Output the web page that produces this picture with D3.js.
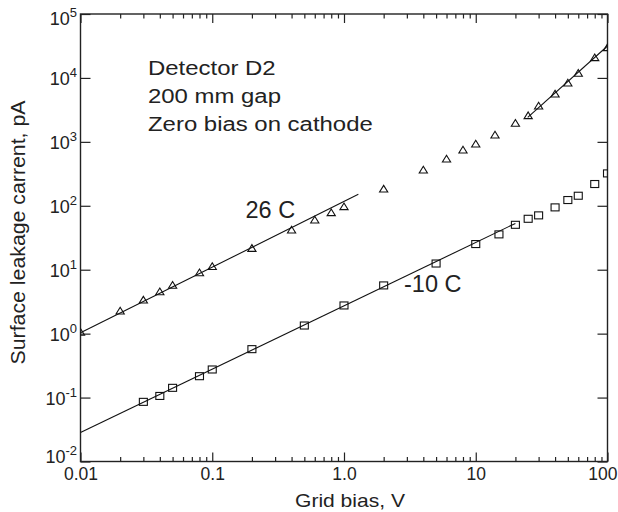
<!DOCTYPE html>
<html>
<head>
<meta charset="utf-8">
<script src="https://cdn.jsdelivr.net/npm/d3@7"></script>
<style>
  html, body { margin: 0; padding: 0; background: #fff; }
  text { font-family: "Liberation Sans", Arial, sans-serif; fill: #222; }
</style>
</head>
<body>
<svg id="chart" width="618" height="512"></svg>
<script>
// ---- data ----
const xTicks = [0.01, 0.1, 1, 10, 100];
const xTickLabels = ["0.01", "0.1", "1.0", "10", "100"];
const yTicks = [1e-2, 1e-1, 1e0, 1e1, 1e2, 1e3, 1e4, 1e5];
const yTickExponents = ["-2", "-1", "0", "1", "2", "3", "4", "5"];

// 26 C (triangles)
const v26 = [0.01, 0.02, 0.03, 0.04, 0.05, 0.08, 0.1, 0.2, 0.4, 0.6, 0.8, 1.0, 2, 4, 6, 8, 10, 14, 20, 25, 30, 40, 50, 60, 80, 100];
const i26 = [1.05, 2.25, 3.34, 4.5, 5.7, 8.95, 11.2, 21.5, 41.7, 59.7, 77.8, 96.5, 182, 362, 538, 744, 924, 1277, 1946, 2563, 3633, 5600, 8320, 11800, 20700, 29700];

// -10 C (squares)
const vM10 = [0.03, 0.04, 0.05, 0.08, 0.1, 0.2, 0.5, 1, 2, 5, 10, 15, 20, 25, 30, 40, 50, 60, 80, 100];
const iM10 = [0.0857, 0.106, 0.142, 0.216, 0.275, 0.572, 1.34, 2.76, 5.68, 12.5, 25.2, 35.7, 50.4, 62.6, 70.8, 94.4, 123, 143.6, 219, 321];

// fitted straight lines (endpoints)
const fit26LowV = [0.01, 1.285];
const fit26LowI = [1.03, 151];
const fit26HighV = [24.8, 100];
const fit26HighI = [2415, 31600];
const fitM10V = [0.01, 20];
const fitM10I = [0.0284, 53];

const annotationLines = ["Detector D2", "200 mm gap", "Zero bias on cathode"];

// ---- layout ----
const svg = d3.select("#chart");
const L = 80.5, R = 607.5, T = 14, B = 461.5;
const x = d3.scaleLog().domain([0.01, 100]).range([L, R]);
const y = d3.scaleLog().domain([0.01, 1e5]).range([B, T]);

const ink = "#222";

svg.append("defs").append("clipPath").attr("id", "plotclip")
  .append("rect").attr("x", L).attr("y", T).attr("width", R - L).attr("height", B - T);

// minor x ticks
const minorX = [];
[0.01, 0.1, 1, 10].forEach(d => { for (let k = 2; k <= 9; k++) minorX.push(+(d * k).toPrecision(3)); });

// bottom axis: major + minor, inward
const gB = svg.append("g").attr("transform", `translate(0,${B})`);
gB.call(d3.axisBottom(x).tickValues(xTicks).tickSize(-9).tickFormat((d, i) => xTickLabels[i]));
const gBm = svg.append("g").attr("transform", `translate(0,${B})`);
gBm.call(d3.axisBottom(x).tickValues(minorX).tickSize(-4.5).tickFormat(""));

// top axis
const gT = svg.append("g").attr("transform", `translate(0,${T})`);
gT.call(d3.axisTop(x).tickValues(xTicks).tickSize(-9).tickFormat(""));
const gTm = svg.append("g").attr("transform", `translate(0,${T})`);
gTm.call(d3.axisTop(x).tickValues(minorX).tickSize(-4.5).tickFormat(""));

// left / right axes (majors only)
const gL = svg.append("g").attr("transform", `translate(${L},0)`);
gL.call(d3.axisLeft(y).tickValues(yTicks).tickSize(-10).tickFormat(""));
const gR = svg.append("g").attr("transform", `translate(${R},0)`);
gR.call(d3.axisRight(y).tickValues(yTicks).tickSize(-10).tickFormat(""));

svg.selectAll(".domain").remove();
svg.selectAll(".tick line").attr("stroke", ink).attr("stroke-width", 1.2);

// x tick labels
gB.selectAll(".tick text")
  .attr("y", 18.5).attr("dy", 0)
  .style("font-family", "'Liberation Sans', Arial, sans-serif")
  .style("font-size", "17.5px").attr("fill", ink);
// keep the last label inside the page
gB.selectAll(".tick text").filter(d => d === 100)
  .attr("text-anchor", "end").attr("x", 617 - R);

// frame
svg.append("rect").attr("x", L).attr("y", T).attr("width", R - L).attr("height", B - T)
  .attr("fill", "none").attr("stroke", ink).attr("stroke-width", 1.4);

// y tick labels with superscripts
yTicks.forEach((t, i) => {
  const base = Math.min(Math.max(y(t) + 7.5, 25), 463);
  const tx = svg.append("text").attr("x", 77).attr("y", base).attr("text-anchor", "end")
    .style("font-size", "18px");
  tx.append("tspan").text("10");
  tx.append("tspan").attr("dy", -8).style("font-size", "13px").text(yTickExponents[i]);
});

// axis titles
svg.append("text").attr("x", 350).attr("y", 506.5).attr("text-anchor", "middle")
  .style("font-size", "18.5px").attr("textLength", 110).attr("lengthAdjust", "spacingAndGlyphs")
  .text("Grid bias, V");
svg.append("text").attr("transform", "translate(25,232.5) rotate(-90)").attr("text-anchor", "middle")
  .style("font-size", "20px").attr("textLength", 264).attr("lengthAdjust", "spacingAndGlyphs")
  .text("Surface leakage carrent, pA");

// plot content
const plot = svg.append("g").attr("clip-path", "url(#plotclip)");
const line = d3.line().x(d => x(d[0])).y(d => y(d[1]));
[[fit26LowV, fit26LowI], [fit26HighV, fit26HighI], [fitM10V, fitM10I]].forEach(([vs, is]) => {
  plot.append("path").datum(d3.zip(vs, is)).attr("d", line)
    .attr("fill", "none").attr("stroke", "#111").attr("stroke-width", 1.1);
});

const tri = "M0,-3.8L4.1,2.9L-4.1,2.9Z";
plot.selectAll(".tri").data(d3.zip(v26, i26)).enter().append("path")
  .attr("d", tri).attr("transform", d => `translate(${x(d[0])},${y(d[1])})`)
  .attr("fill", "none").attr("stroke", "#111").attr("stroke-width", 1.1);

plot.selectAll(".sq").data(d3.zip(vM10, iM10)).enter().append("rect")
  .attr("x", d => x(d[0]) - 4).attr("y", d => y(d[1]) - 3.5)
  .attr("width", 8).attr("height", 7)
  .attr("fill", "none").attr("stroke", "#111").attr("stroke-width", 1.1);

// series labels
svg.append("text").attr("x", 245.5).attr("y", 218).style("font-size", "23.5px").text("26 C");
svg.append("text").attr("x", 404).attr("y", 291.5).style("font-size", "23.5px").text("-10 C");

// annotation block
const ann = svg.append("g").attr("transform", "translate(148,0) scale(1.14,1)");
const baselines = [75.5, 103.5, 131.5];
annotationLines.forEach((s, i) => {
  ann.append("text").attr("x", 0).attr("y", baselines[i]).style("font-size", "21px").text(s);
});
</script>
</body>
</html>
